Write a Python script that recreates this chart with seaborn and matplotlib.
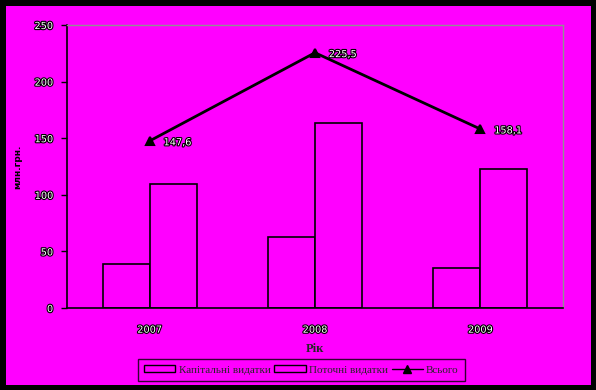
import matplotlib
matplotlib.use("Agg")
import matplotlib.pyplot as plt
import matplotlib.patheffects as pe
from matplotlib.patches import Rectangle, Patch
from matplotlib.lines import Line2D
import seaborn as sns
import pandas as pd

years = ["2007", "2008", "2009"]
capital = [38.5, 62.5, 35.0]
current = [109.1, 163.0, 123.1]
totals = [147.6, 225.5, 158.1]
total_labels = ["147,6", "225,5", "158,1"]
series_names = ["Капітальні видатки", "Поточні видатки", "Всього"]
y_ticks = [0, 50, 100, 150, 200, 250]

sns.set_theme(style="white")
plt.rcParams['font.family'] = ['DejaVu Sans']

MAG = "#ff00ff"
W, H = 596, 390
fig = plt.figure(figsize=(W / 100, H / 100), dpi=100, facecolor="black")
bg = Rectangle((6 / W, 5 / H), 585 / W, 379 / H, transform=fig.transFigure,
               facecolor=MAG, edgecolor="none", zorder=-10)
fig.patches.append(bg)

ax = fig.add_axes([67 / W, 1 - 308 / H, (563 - 67) / W, (308 - 25) / H])
ax.set_zorder(5)
ax.set_facecolor(MAG)

df = pd.DataFrame({
    "year": years * 2,
    "value": capital + current,
    "series": [series_names[0]] * 3 + [series_names[1]] * 3,
})
sns.barplot(data=df, x="year", y="value", hue="series", ax=ax, width=0.57,
            palette=[MAG, MAG], edgecolor="black", linewidth=1.2, saturation=1,
            legend=False, zorder=2)
sns.pointplot(x=years, y=totals, ax=ax, color="black", markers="^", linestyles="-",
              markersize=6, linewidth=2, zorder=3)

stroke = [pe.withStroke(linewidth=1.6, foreground="black")]
for i, (v, lab) in enumerate(zip(totals, total_labels)):
    ax.annotate(lab, (i, v), xytext=(10, -1), textcoords="offset points",
                ha="left", va="center", fontsize=7, color="white", path_effects=stroke)

ax.set_xlim(-0.5, 2.5)
ax.set_ylim(0, 250)
ax.set_yticks(y_ticks)
ax.set_yticklabels([str(t) for t in y_ticks], fontsize=7, color="white")
for t in ax.get_yticklabels():
    t.set_path_effects(stroke)
ax.set_xticks([0, 1, 2])
ax.set_xticklabels(years, fontsize=7, color="white")
for t in ax.get_xticklabels():
    t.set_path_effects(stroke)
ax.set_xticks([-0.5, 0.5, 1.5, 2.5], minor=True)
ax.tick_params(axis="x", which="major", length=0, pad=12)
ax.tick_params(axis="x", which="minor", length=4, width=1, color="black", direction="out")
ax.tick_params(axis="y", length=4, width=1, color="black", direction="out", pad=6, left=True)

for s in ["left", "bottom"]:
    ax.spines[s].set_color("black")
    ax.spines[s].set_linewidth(1.2)
for s in ["top", "right"]:
    ax.spines[s].set_color("#909090")
    ax.spines[s].set_linewidth(1)
ax.grid(False)

ax.set_xlabel("Рік", fontsize=9, fontweight="bold", family=["Liberation Serif"], labelpad=6)
ax.set_ylabel("")
fig.text(18 / W, 1 - 167 / H, "млн.грн.", rotation=90, ha="center", va="center",
         fontsize=6.5, fontweight="bold", color="black", zorder=6)

handles = [
    Patch(facecolor=MAG, edgecolor="black", linewidth=1),
    Patch(facecolor=MAG, edgecolor="black", linewidth=1),
    Line2D([0], [0], color="black", marker="^", markersize=6, linewidth=1),
]
leg = fig.legend(handles, series_names, loc="center", bbox_to_anchor=(301.5 / W, 1 - 370 / H),
                 ncol=3, frameon=True, fancybox=False, facecolor=MAG, edgecolor="black",
                 prop={"family": "Liberation Serif", "size": 8}, handlelength=2.8,
                 handleheight=0.5, columnspacing=0.35, handletextpad=0.3, borderpad=0.55,
                 borderaxespad=0)
leg.set_zorder(6)
leg.get_frame().set_linewidth(1)

fig.savefig("out.png", dpi=100, facecolor="black")
